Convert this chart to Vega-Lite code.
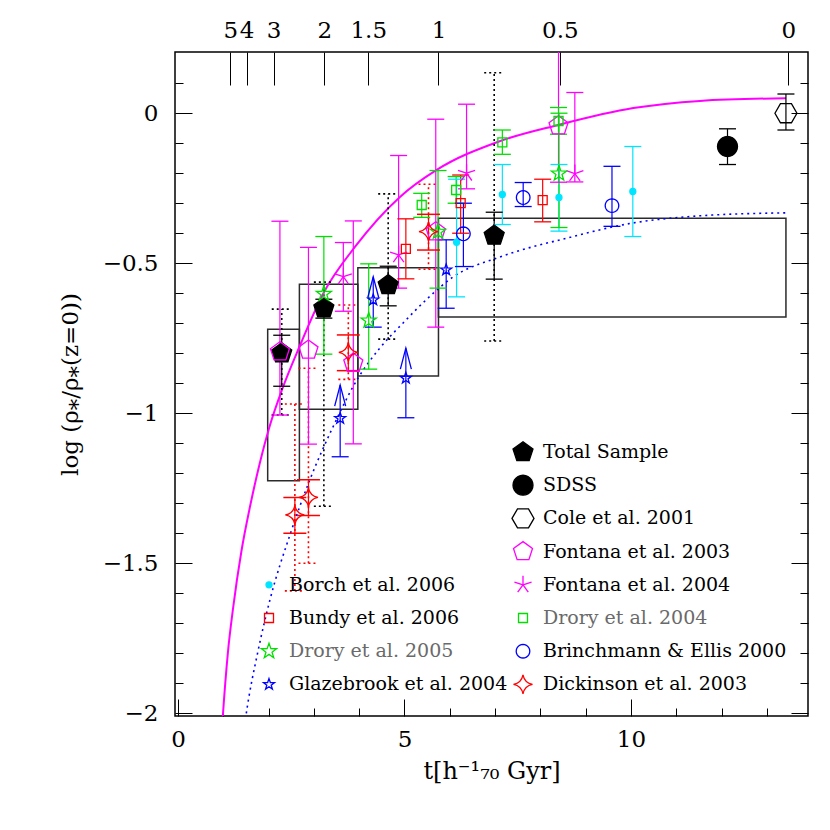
{
  "$schema": "https://vega.github.io/schema/vega-lite/v6.json",
  "width": 633,
  "height": 664,
  "autosize": {"type": "none"},
  "padding": {"left": 175, "top": 52, "right": 22, "bottom": 114},
  "background": "white",
  "config": {
    "view": {"stroke": "black", "strokeWidth": 1.5},
    "font": "DejaVu Serif",
    "axis": {"grid": false, "domain": false, "tickColor": "black", "labelColor": "black", "titleColor": "black", "titleFontWeight": "normal", "labelFont": "DejaVu Serif", "titleFont": "DejaVu Serif", "labelFlush": false, "labelOverlap": false, "tickWidth": 1}
  },
  "datasets": {
    "pts": [
      {"s": "Total Sample", "t": 2.29, "v": -0.80, "lo": -0.91, "hi": -0.74},
      {"s": "Total Sample", "t": 3.22, "v": -0.65, "lo": -0.683, "hi": -0.62},
      {"s": "Total Sample", "t": 4.64, "v": -0.573, "lo": -0.642, "hi": -0.51},
      {"s": "Total Sample", "t": 6.98, "v": -0.408, "lo": -0.553, "hi": -0.33},
      {"s": "SDSS", "t": 12.13, "v": -0.111, "lo": -0.171, "hi": -0.052},
      {"s": "Cole et al. 2001", "t": 13.42, "v": 0.0, "lo": -0.056, "hi": 0.064},
      {"s": "Fontana et al. 2003", "t": 2.25, "v": -0.795, "lo": -1.006, "hi": -0.36},
      {"s": "Fontana et al. 2003", "t": 2.88, "v": -0.789, "lo": -1.103, "hi": -0.447},
      {"s": "Fontana et al. 2003", "t": 3.87, "v": -0.833, "lo": -1.102, "hi": -0.359},
      {"s": "Fontana et al. 2003", "t": 5.69, "v": -0.395, "lo": -0.713, "hi": -0.02},
      {"s": "Fontana et al. 2003", "t": 8.40, "v": -0.042, "lo": -0.23, "hi": 0.35},
      {"s": "Fontana et al. 2004", "t": 3.65, "v": -0.545, "lo": -0.66, "hi": -0.431},
      {"s": "Fontana et al. 2004", "t": 4.87, "v": -0.472, "lo": -0.583, "hi": -0.141},
      {"s": "Fontana et al. 2004", "t": 6.37, "v": -0.20, "lo": -0.252, "hi": 0.03},
      {"s": "Fontana et al. 2004", "t": 8.76, "v": -0.201, "lo": -0.229, "hi": 0.069},
      {"s": "Borch et al. 2006", "t": 6.15, "v": -0.43, "lo": -0.612, "hi": -0.22},
      {"s": "Borch et al. 2006", "t": 7.16, "v": -0.271, "lo": -0.371, "hi": -0.171},
      {"s": "Borch et al. 2006", "t": 8.41, "v": -0.281, "lo": -0.393, "hi": -0.171},
      {"s": "Borch et al. 2006", "t": 10.04, "v": -0.261, "lo": -0.411, "hi": -0.111},
      {"s": "Bundy et al. 2006", "t": 5.03, "v": -0.452, "lo": -0.552, "hi": -0.352},
      {"s": "Bundy et al. 2006", "t": 6.24, "v": -0.30, "lo": -0.40, "hi": -0.206},
      {"s": "Bundy et al. 2006", "t": 8.05, "v": -0.29, "lo": -0.362, "hi": -0.22},
      {"s": "Drory et al. 2004", "t": 5.38, "v": -0.306, "lo": -0.347, "hi": -0.267},
      {"s": "Drory et al. 2004", "t": 6.14, "v": -0.256, "lo": -0.30, "hi": -0.211},
      {"s": "Drory et al. 2004", "t": 7.16, "v": -0.097, "lo": -0.137, "hi": -0.056},
      {"s": "Drory et al. 2004", "t": 8.40, "v": -0.026, "lo": -0.07, "hi": 0.019},
      {"s": "Drory et al. 2005", "t": 3.22, "v": -0.602, "lo": -0.803, "hi": -0.411},
      {"s": "Drory et al. 2005", "t": 4.21, "v": -0.691, "lo": -0.853, "hi": -0.502},
      {"s": "Drory et al. 2005", "t": 5.74, "v": -0.395, "lo": -0.583, "hi": -0.191},
      {"s": "Drory et al. 2005", "t": 8.41, "v": -0.201, "lo": -0.381, "hi": 0.0},
      {"s": "Brinchmann & Ellis 2000", "t": 6.30, "v": -0.402, "lo": -0.511, "hi": -0.30},
      {"s": "Brinchmann & Ellis 2000", "t": 7.62, "v": -0.281, "lo": -0.311, "hi": -0.231},
      {"s": "Brinchmann & Ellis 2000", "t": 9.58, "v": -0.308, "lo": -0.377, "hi": -0.177},
      {"s": "Glazebrook et al. 2004", "t": 4.31, "v": -0.622, "lo": -0.713, "hi": -0.545, "up": 1},
      {"s": "Glazebrook et al. 2004", "t": 5.03, "v": -0.883, "lo": -1.015, "hi": -0.783, "up": 1},
      {"s": "Glazebrook et al. 2004", "t": 3.58, "v": -1.017, "lo": -1.145, "hi": -0.906, "up": 1},
      {"s": "Glazebrook et al. 2004", "t": 5.92, "v": -0.522, "lo": -0.65, "hi": -0.422},
      {"s": "Dickinson et al. 2003", "t": 2.58, "v": -1.339, "lo": -1.40, "hi": -1.281},
      {"s": "Dickinson et al. 2003", "t": 2.88, "v": -1.28, "lo": -1.341, "hi": -1.222},
      {"s": "Dickinson et al. 2003", "t": 3.76, "v": -0.797, "lo": -0.858, "hi": -0.739},
      {"s": "Dickinson et al. 2003", "t": 5.53, "v": -0.395, "lo": -0.456, "hi": -0.337}
    ],
    "sys": [
      {"s": "Total Sample", "t": 2.29, "lo": -1.006, "hi": -0.653},
      {"s": "Total Sample", "t": 3.22, "lo": -1.31, "hi": -0.563},
      {"s": "Total Sample", "t": 4.64, "lo": -0.753, "hi": -0.269},
      {"s": "Total Sample", "t": 6.98, "lo": -0.759, "hi": 0.135},
      {"s": "Dickinson et al. 2003", "t": 2.58, "lo": -1.592, "hi": -0.969},
      {"s": "Dickinson et al. 2003", "t": 2.88, "lo": -1.50, "hi": -0.85},
      {"s": "Dickinson et al. 2003", "t": 3.76, "lo": -0.887, "hi": -0.639},
      {"s": "Dickinson et al. 2003", "t": 5.53, "lo": -0.52, "hi": -0.237}
    ],
    "box": [
      {"t1": 1.98, "t2": 2.68, "v1": -1.225, "v2": -0.72},
      {"t1": 2.68, "t2": 3.97, "v1": -0.987, "v2": -0.57},
      {"t1": 3.97, "t2": 5.75, "v1": -0.876, "v2": -0.515},
      {"t1": 5.75, "t2": 13.42, "v1": -0.679, "v2": -0.35}
    ],
    "curve": [
      {"m": "a", "t": 0.93, "v": -2.15},
      {"m": "a", "t": 0.99, "v": -2.009},
      {"m": "a", "t": 1.1, "v": -1.80},
      {"m": "a", "t": 1.22, "v": -1.645},
      {"m": "a", "t": 1.4, "v": -1.46},
      {"m": "a", "t": 1.59, "v": -1.311},
      {"m": "a", "t": 1.8, "v": -1.17},
      {"m": "a", "t": 2.03, "v": -1.04},
      {"m": "a", "t": 2.3, "v": -0.92},
      {"m": "a", "t": 2.69, "v": -0.775},
      {"m": "a", "t": 3.21, "v": -0.60},
      {"m": "a", "t": 3.91, "v": -0.445},
      {"m": "a", "t": 4.90, "v": -0.279},
      {"m": "a", "t": 5.71, "v": -0.189},
      {"m": "a", "t": 7.07, "v": -0.095},
      {"m": "a", "t": 8.40, "v": -0.039},
      {"m": "a", "t": 10.05, "v": 0.017},
      {"m": "a", "t": 11.52, "v": 0.041},
      {"m": "a", "t": 13.42, "v": 0.05},
      {"m": "b", "t": 1.42, "v": -2.1},
      {"m": "b", "t": 1.50, "v": -2.009},
      {"m": "b", "t": 1.77, "v": -1.79},
      {"m": "b", "t": 2.03, "v": -1.622},
      {"m": "b", "t": 2.47, "v": -1.406},
      {"m": "b", "t": 2.91, "v": -1.222},
      {"m": "b", "t": 3.42, "v": -1.046},
      {"m": "b", "t": 3.95, "v": -0.889},
      {"m": "b", "t": 4.46, "v": -0.782},
      {"m": "b", "t": 4.97, "v": -0.699},
      {"m": "b", "t": 5.52, "v": -0.616},
      {"m": "b", "t": 6.07, "v": -0.546},
      {"m": "b", "t": 7.11, "v": -0.479},
      {"m": "b", "t": 8.59, "v": -0.416},
      {"m": "b", "t": 10.04, "v": -0.366},
      {"m": "b", "t": 11.52, "v": -0.342},
      {"m": "b", "t": 13.42, "v": -0.332}
    ]
  },
  "resolve": {"axis": {"x": "independent", "y": "independent"}},
  "layer": [
    {
      "data": {"name": "box"},
      "mark": {"type": "rect", "filled": false, "fill": "transparent", "stroke": "#2b2b2b", "strokeWidth": 1.5},
      "encoding": {
        "x": {"field": "t1", "type": "quantitative", "scale": {"domain": [-0.066, 13.907], "nice": false, "zero": false},
          "axis": {"orient": "bottom", "values": [0, 5, 10], "tickSize": -17, "labelPadding": 29, "labelFontSize": 23,
            "title": "t[h⁻¹₇₀ Gyr]", "titleFontSize": 24, "titlePadding": 8}},
        "x2": {"field": "t2"},
        "y": {"field": "v1", "type": "quantitative", "scale": {"domain": [-2.009, 0.204], "nice": false, "zero": false},
          "axis": {"orient": "left", "values": [-2, -1.5, -1, -0.5, 0],
            "labelExpr": "replace(format(datum.value, '.1~f'), '-', '−')",
            "tickSize": -17, "labelPadding": 34, "labelFontSize": 23,
            "title": "log (ρ⁎/ρ⁎(z=0))", "titleFontSize": 23, "titlePadding": 20}},
        "y2": {"field": "v2"}
      }
    },
    {
      "data": {"name": "curve"},
      "transform": [{"filter": "datum.m == 'a'"}],
      "mark": {"type": "line", "color": "#ff00ff", "strokeWidth": 2, "clip": true, "interpolate": "monotone"},
      "encoding": {
        "x": {"field": "t", "type": "quantitative",
          "axis": {"orient": "top", "values": [1.155, 1.516, 2.11, 3.23, 4.2, 5.75, 8.43, 13.47],
            "labelExpr": "datum.value < 1.3 ? '5' : datum.value < 1.8 ? '4' : datum.value < 2.5 ? '3' : datum.value < 3.5 ? '2' : datum.value < 5 ? '1.5' : datum.value < 7 ? '1' : datum.value < 10 ? '0.5' : '0'",
            "tickSize": -33, "labelPadding": 43, "labelFontSize": 23, "title": null}},
        "y": {"field": "v", "type": "quantitative",
          "axis": {"orient": "right", "values": [-2, -1.5, -1, -0.5, 0], "labels": false, "tickSize": -17, "title": null}}
      }
    },
    {
      "data": {"name": "curve"},
      "transform": [{"filter": "datum.m == 'b'"}],
      "mark": {"type": "line", "color": "#0000ff", "strokeWidth": 1.6, "strokeDash": [2, 4], "clip": true, "interpolate": "monotone"},
      "encoding": {
        "x": {"field": "t", "type": "quantitative",
          "axis": {"orient": "bottom", "values": [1, 2, 3, 4, 6, 7, 8, 9, 11, 12, 13], "labels": false, "tickSize": -8, "title": null}},
        "y": {"field": "v", "type": "quantitative",
          "axis": {"orient": "left", "values": [-1.9, -1.8, -1.7, -1.6, -1.4, -1.3, -1.2, -1.1, -0.9, -0.8, -0.7, -0.6, -0.4, -0.3, -0.2, -0.1, 0.1], "labels": false, "tickSize": -8, "title": null}}
      }
    },
    {
      "data": {"name": "sys"},
      "mark": {"type": "rule", "strokeWidth": 1.6, "strokeDash": [2, 3], "clip": true},
      "encoding": {
        "x": {"field": "t", "type": "quantitative", "axis": null},
        "y": {"field": "lo", "type": "quantitative",
          "axis": {"orient": "right", "values": [-1.9, -1.8, -1.7, -1.6, -1.4, -1.3, -1.2, -1.1, -0.9, -0.8, -0.7, -0.6, -0.4, -0.3, -0.2, -0.1, 0.1], "labels": false, "tickSize": -8, "title": null}},
        "y2": {"field": "hi"},
        "color": {"field": "s", "type": "nominal", "legend": null,
          "scale": {"domain": ["Total Sample", "SDSS", "Cole et al. 2001", "Fontana et al. 2003", "Borch et al. 2006", "Fontana et al. 2004", "Bundy et al. 2006", "Drory et al. 2004", "Drory et al. 2005", "Brinchmann & Ellis 2000", "Glazebrook et al. 2004", "Dickinson et al. 2003"],
            "range": ["black", "black", "black", "#ff00ff", "#00e5ff", "#ff00ff", "#ff0000", "#00e000", "#00e000", "#0000ff", "#0000ff", "#ff0000"]}}
      }
    },
    {
      "data": {"name": "sys"},
      "transform": [{"fold": ["lo", "hi"], "as": ["k", "cap"]}],
      "mark": {"type": "rule", "strokeWidth": 1.6, "strokeDash": [2, 3], "xOffset": -10, "x2Offset": 10, "clip": true},
      "encoding": {
        "x": {"field": "t", "type": "quantitative", "axis": null},
        "x2": {"field": "t"},
        "y": {"field": "cap", "type": "quantitative", "axis": null},
        "color": {"field": "s", "type": "nominal", "legend": null}
      }
    },
    {
      "data": {"name": "pts"},
      "mark": {"type": "rule", "strokeWidth": 1.2, "clip": true},
      "encoding": {
        "x": {"field": "t", "type": "quantitative", "axis": null},
        "y": {"field": "lo", "type": "quantitative", "axis": null},
        "y2": {"field": "hi"},
        "color": {"field": "s", "type": "nominal", "legend": null}
      }
    },
    {
      "data": {"name": "pts"},
      "transform": [
        {"fold": ["lo", "hi"], "as": ["k", "cap"]},
        {"filter": "datum.s != 'Dickinson et al. 2003' && !(datum.k == 'hi' && datum.up == 1)"}
      ],
      "mark": {"type": "tick", "orient": "horizontal", "size": 17, "thickness": 1.3, "clip": true, "opacity": 1},
      "encoding": {
        "x": {"field": "t", "type": "quantitative", "axis": null},
        "y": {"field": "cap", "type": "quantitative", "axis": null},
        "color": {"field": "s", "type": "nominal", "legend": null}
      }
    },
    {
      "data": {"name": "pts"},
      "transform": [
        {"fold": ["lo", "hi"], "as": ["k", "cap"]},
        {"filter": "datum.s == 'Dickinson et al. 2003'"}
      ],
      "mark": {"type": "tick", "orient": "horizontal", "size": 23, "thickness": 1.5, "clip": true, "opacity": 1},
      "encoding": {
        "x": {"field": "t", "type": "quantitative", "axis": null},
        "y": {"field": "cap", "type": "quantitative", "axis": null},
        "color": {"field": "s", "type": "nominal", "legend": null}
      }
    },
    {
      "data": {"name": "pts"},
      "transform": [{"filter": "datum.up == 1"}],
      "mark": {"type": "point", "shape": "M-0.55,2.1L0,0L0.55,2.1", "size": 400, "filled": false, "stroke": "#0000ff", "strokeWidth": 1.3, "opacity": 1},
      "encoding": {
        "x": {"field": "t", "type": "quantitative", "axis": null},
        "y": {"field": "hi", "type": "quantitative", "axis": null}
      }
    },
    {
      "data": {"name": "pts"},
      "mark": {"type": "point", "size": 400, "strokeWidth": 1.3, "opacity": 1},
      "encoding": {
        "x": {"field": "t", "type": "quantitative", "axis": null},
        "y": {"field": "v", "type": "quantitative", "axis": null},
        "shape": {"field": "s", "type": "nominal",
          "scale": {"domain": ["_1", "_2", "_3", "_4", "Borch et al. 2006", "Bundy et al. 2006", "Drory et al. 2005", "Glazebrook et al. 2004", "Total Sample", "SDSS", "Cole et al. 2001", "Fontana et al. 2003", "Fontana et al. 2004", "Drory et al. 2004", "Brinchmann & Ellis 2000", "Dickinson et al. 2003"],
            "range": [
              "circle", "circle", "circle", "circle",
              "M0,-1.3L0,-1.3M0,1.3L0,1.3M-0.3,0A0.3,0.3 0 1,0 0.3,0A0.3,0.3 0 1,0 -0.3,0Z",
              "M0,-1.3L0,-1.3M0,1.3L0,1.3M-0.45,-0.45L0.45,-0.45L0.45,0.45L-0.45,0.45Z",
              "M0,-1.3L0,-1.3M0,1.3L0,1.3M0,-0.8L0.188,-0.259L0.761,-0.247L0.304,0.099L0.470,0.647L0,0.32L-0.470,0.647L-0.304,0.099L-0.761,-0.247L-0.188,-0.259Z",
              "M0,-1.3L0,-1.3M0,1.3L0,1.3M0,-0.58L0.136,-0.188L0.552,-0.179L0.220,0.072L0.341,0.469L0,0.232L-0.341,0.469L-0.220,0.072L-0.552,-0.179L-0.136,-0.188Z",
              "M0,-1.3L0,-1.3M0,1.3L0,1.3M0,-1.05L1.0,-0.325L0.617,0.85L-0.617,0.85L-1.0,-0.325Z",
              "M0,-1.3L0,-1.3M0,1.3L0,1.3M1,0L0.966,0.259L0.866,0.5L0.707,0.707L0.5,0.866L0.259,0.966L0,1L-0.259,0.966L-0.5,0.866L-0.707,0.707L-0.866,0.5L-0.966,0.259L-1,0L-0.966,-0.259L-0.866,-0.5L-0.707,-0.707L-0.5,-0.866L-0.259,-0.966L0,-1L0.259,-0.966L0.5,-0.866L0.707,-0.707L0.866,-0.5L0.966,-0.259Z",
              "M0,-1.3L0,-1.3M0,1.3L0,1.3M-1.1,0L-0.55,-0.953L0.55,-0.953L1.1,0L0.55,0.953L-0.55,0.953Z",
              "M0,-1.3L0,-1.3M0,1.3L0,1.3M0,-1L0.951,-0.309L0.588,0.809L-0.588,0.809L-0.951,-0.309Z",
              "M0,-1.3L0,-1.3M0,1.3L0,1.3M0,0L0,-0.9M0,0L0.856,-0.278M0,0L0.529,0.728M0,0L-0.529,0.728M0,0L-0.856,-0.278",
              "M0,-1.3L0,-1.3M0,1.3L0,1.3M-0.45,-0.45L0.45,-0.45L0.45,0.45L-0.45,0.45Z",
              "M0,-1.3L0,-1.3M0,1.3L0,1.3M0.68,0L0.657,0.176L0.589,0.34L0.481,0.481L0.34,0.589L0.176,0.657L0,0.68L-0.176,0.657L-0.34,0.589L-0.481,0.481L-0.589,0.34L-0.657,0.176L-0.68,0L-0.657,-0.176L-0.589,-0.34L-0.481,-0.481L-0.34,-0.589L-0.176,-0.657L0,-0.68L0.176,-0.657L0.34,-0.589L0.481,-0.481L0.589,-0.34L0.657,-0.176Z",
              "M0,-1.3L0,-1.3M0,1.3L0,1.3M0,-0.95Q0.15,-0.15 0.95,0Q0.15,0.15 0,0.95Q-0.15,0.15 -0.95,0Q-0.15,-0.15 0,-0.95Z"
            ]},
          "legend": {"title": null, "orient": "none", "legendX": 83, "legendY": 389, "columns": 2, "columnPadding": 1, "rowPadding": 1.2, "gridAlign": "each",
            "symbolSize": 400, "symbolStrokeWidth": 1.3, "symbolOpacity": 1, "labelFont": "DejaVu Serif", "labelFontSize": 19, "labelOffset": 9, "labelLimit": 400, "padding": 0,
            "labelExpr": "substring(datum.label, 0, 1) == '_' ? '' : datum.label",
            "encode": {"labels": {"update": {"fill": {"signal": "indexof(datum.value, 'Drory') >= 0 ? '#6a6a6a' : 'black'"}}}}}},
        "stroke": {"field": "s", "type": "nominal",
          "scale": {"domain": ["_1", "_2", "_3", "_4", "Borch et al. 2006", "Bundy et al. 2006", "Drory et al. 2005", "Glazebrook et al. 2004", "Total Sample", "SDSS", "Cole et al. 2001", "Fontana et al. 2003", "Fontana et al. 2004", "Drory et al. 2004", "Brinchmann & Ellis 2000", "Dickinson et al. 2003"],
            "range": ["transparent", "transparent", "transparent", "transparent", "#00e5ff", "#ff0000", "#00e000", "#0000ff", "black", "black", "black", "#ff00ff", "#ff00ff", "#00e000", "#0000ff", "#ff0000"]},
          "legend": {"title": null, "orient": "none", "legendX": 83, "legendY": 389, "columns": 2, "columnPadding": 1, "rowPadding": 1.2, "gridAlign": "each",
            "symbolSize": 400, "symbolStrokeWidth": 1.3, "symbolOpacity": 1, "labelFont": "DejaVu Serif", "labelFontSize": 19, "labelOffset": 9, "labelLimit": 400, "padding": 0,
            "labelExpr": "substring(datum.label, 0, 1) == '_' ? '' : datum.label",
            "encode": {"labels": {"update": {"fill": {"signal": "indexof(datum.value, 'Drory') >= 0 ? '#6a6a6a' : 'black'"}}}}}},
        "fill": {"field": "s", "type": "nominal",
          "scale": {"domain": ["_1", "_2", "_3", "_4", "Borch et al. 2006", "Bundy et al. 2006", "Drory et al. 2005", "Glazebrook et al. 2004", "Total Sample", "SDSS", "Cole et al. 2001", "Fontana et al. 2003", "Fontana et al. 2004", "Drory et al. 2004", "Brinchmann & Ellis 2000", "Dickinson et al. 2003"],
            "range": ["transparent", "transparent", "transparent", "transparent", "#00e5ff", "transparent", "transparent", "transparent", "black", "black", "transparent", "transparent", "transparent", "transparent", "transparent", "transparent"]},
          "legend": {"title": null, "orient": "none", "legendX": 83, "legendY": 389, "columns": 2, "columnPadding": 1, "rowPadding": 1.2, "gridAlign": "each",
            "symbolSize": 400, "symbolStrokeWidth": 1.3, "symbolOpacity": 1, "labelFont": "DejaVu Serif", "labelFontSize": 19, "labelOffset": 9, "labelLimit": 400, "padding": 0,
            "labelExpr": "substring(datum.label, 0, 1) == '_' ? '' : datum.label",
            "encode": {"labels": {"update": {"fill": {"signal": "indexof(datum.value, 'Drory') >= 0 ? '#6a6a6a' : 'black'"}}}}}}
      }
    }
  ]
}
